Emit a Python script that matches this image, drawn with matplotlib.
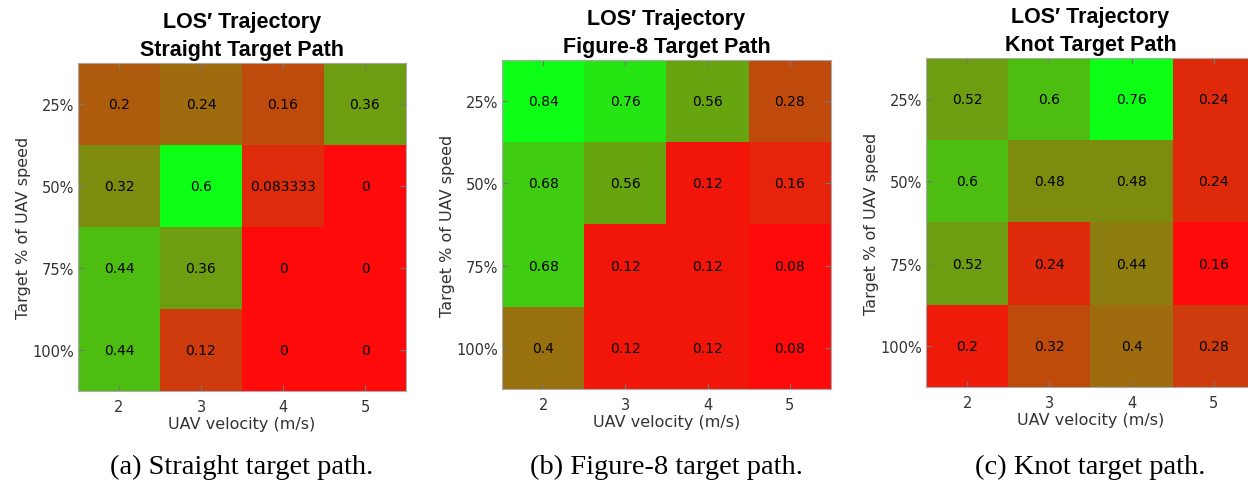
import matplotlib
matplotlib.use("Agg")
import matplotlib.pyplot as plt
from matplotlib.colors import LinearSegmentedColormap, Normalize
import numpy as np

plt.rcParams['font.family'] = ['DejaVu Sans']

# data
uav_vel = ["2", "3", "4", "5"]
target_pct = ["25%", "50%", "75%", "100%"]

straight = [[0.2, 0.24, 0.16, 0.36],
            [0.32, 0.6, 0.083333, 0],
            [0.44, 0.36, 0, 0],
            [0.44, 0.12, 0, 0]]
fig8 = [[0.84, 0.76, 0.56, 0.28],
        [0.68, 0.56, 0.12, 0.16],
        [0.68, 0.12, 0.12, 0.08],
        [0.4, 0.12, 0.12, 0.08]]
knot = [[0.52, 0.6, 0.76, 0.24],
        [0.6, 0.48, 0.48, 0.24],
        [0.52, 0.24, 0.44, 0.16],
        [0.2, 0.32, 0.4, 0.28]]

titles = ["LOS\u2032 Trajectory\nStraight Target Path",
          "LOS\u2032 Trajectory\nFigure-8 Target Path",
          "LOS\u2032 Trajectory\nKnot Target Path"]
captions = ["(a) Straight target path.",
            "(b) Figure-8 target path.",
            "(c) Knot target path."]

W, H = 1248, 481
# axes boxes in pixels: left, top, width, height
boxes = [(78, 64, 328, 328), (502, 61, 329, 329), (926, 59, 329, 329)]

cmap = LinearSegmentedColormap.from_list("rg", [(1.0, 0.04, 0.04), (0.05, 1.0, 0.08)])

fig = plt.figure(figsize=(W / 100, H / 100), dpi=100)
fig.patch.set_facecolor("white")

for data, title, cap, (l, t, w, h) in zip([straight, fig8, knot], titles, captions, boxes):
    arr = np.array(data, dtype=float)
    ax = fig.add_axes([l / W, 1 - (t + h) / H, w / W, h / H])
    ax.imshow(arr, cmap=cmap, norm=Normalize(arr.min(), arr.max()), aspect="auto")
    for i in range(arr.shape[0]):
        for j in range(arr.shape[1]):
            ax.text(j, i, f"{arr[i, j]:.5g}", ha="center", va="center",
                    fontsize=10, color="black")
    ax.set_xticks(range(4))
    ax.set_xticklabels(uav_vel)
    ax.set_yticks(range(4))
    ax.set_yticklabels(target_pct)
    ax.tick_params(direction="in", length=4, color="#777777", labelcolor="#333333",
                   labelsize=10.5, top=True, right=True)
    ax.tick_params(axis="x", pad=6)
    ax.tick_params(axis="y", pad=3)
    for s in ax.spines.values():
        s.set_color("#aaaaaa")
        s.set_linewidth(0.8)
    ax.set_xlabel("UAV velocity (m/s)", fontsize=11.5, color="#333333", labelpad=1)
    ax.set_ylabel("Target % of UAV speed", fontsize=11.5, color="#333333", labelpad=1)
    ax.set_title(title, fontsize=15.5, fontweight="bold", pad=6, linespacing=1.4,
                 family="Liberation Sans")
    fig.text((l + w / 2) / W, 1 - 467 / H, cap, ha="center", va="center",
             fontsize=20.5, family="Liberation Serif")

fig.savefig("out.png", dpi=100)
